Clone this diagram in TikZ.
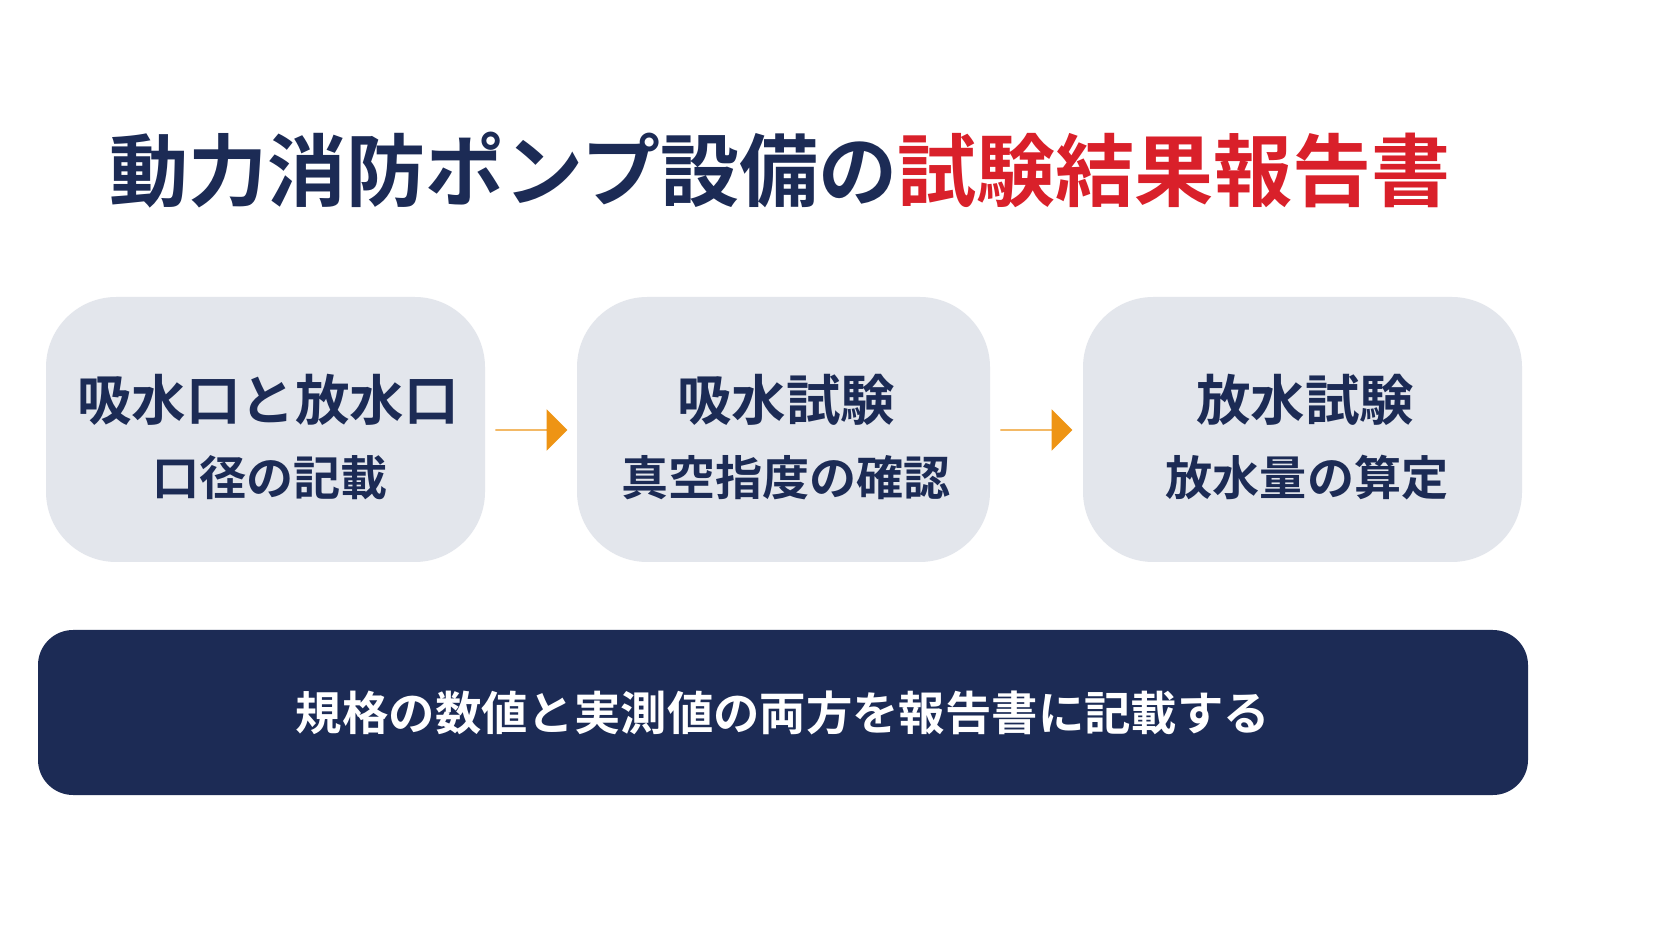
\documentclass[tikz,border=0pt]{standalone}
\usepackage{fontspec}
\setmainfont{Noto Sans CJK JP Bold}
\usetikzlibrary{positioning,shapes.arrows}
\definecolor{navy}{HTML}{1C2B55}
\definecolor{boxgray}{HTML}{E3E6EC}
\definecolor{titlered}{HTML}{D9202A}
\definecolor{arrorange}{HTML}{EE9414}
\begin{document}
\begin{tikzpicture}[
  stage/.style={fill=boxgray, rounded corners=20pt, minimum height=2.65cm},
  head/.style={font=\fontsize{15.5pt}{18pt}\selectfont, text=navy},
  sub/.style={font=\fontsize{13.4pt}{16pt}\selectfont, text=navy},
  flow/.style={single arrow, fill=arrorange, minimum height=0.72cm,
    minimum width=0.4cm, single arrow head extend=0.2cm, inner sep=0pt}
]
  \fill[white] (0,0) rectangle (16.72,9.41);

  % title
  \node (title) at (7.8,7.71) {\fontsize{22.5pt}{26pt}\selectfont
    \textcolor{navy}{動力消防ポンプ設備の}\textcolor{titlered}{試験結果報告書}};

  % three stages
  \node[stage, minimum width=4.39cm] (suction) at (2.655,5.115) {};
  \node[stage, minimum width=4.13cm] (vacuum) at (7.835,5.115) {};
  \node[stage, minimum width=4.39cm] (discharge) at (13.025,5.115) {};

  \node[head] (h1) at (2.68,5.41) {吸水口と放水口};
  \node[sub] (s1) at (2.7,4.63) {口径の記載};
  \node[head] (h2) at (7.86,5.41) {吸水試験};
  \node[sub] (s2) at (7.86,4.63) {真空指度の確認};
  \node[head] (h3) at (13.05,5.41) {放水試験};
  \node[sub] (s3) at (13.07,4.63) {放水量の算定};

  % arrows
  \node[flow] (a1) at (5.31,5.11) {};
  \node[flow] (a2) at (10.36,5.11) {};

  % summary bar
  \node[fill=navy, rounded corners=10pt, minimum width=14.9cm,
    minimum height=1.65cm, text=white,
    font=\fontsize{13.2pt}{16pt}\selectfont] (note) at (7.83,2.285)
    {規格の数値と実測値の両方を報告書に記載する};

  \pgfresetboundingbox
  \useasboundingbox (0,0) rectangle (16.72,9.41);
\end{tikzpicture}
\end{document}
